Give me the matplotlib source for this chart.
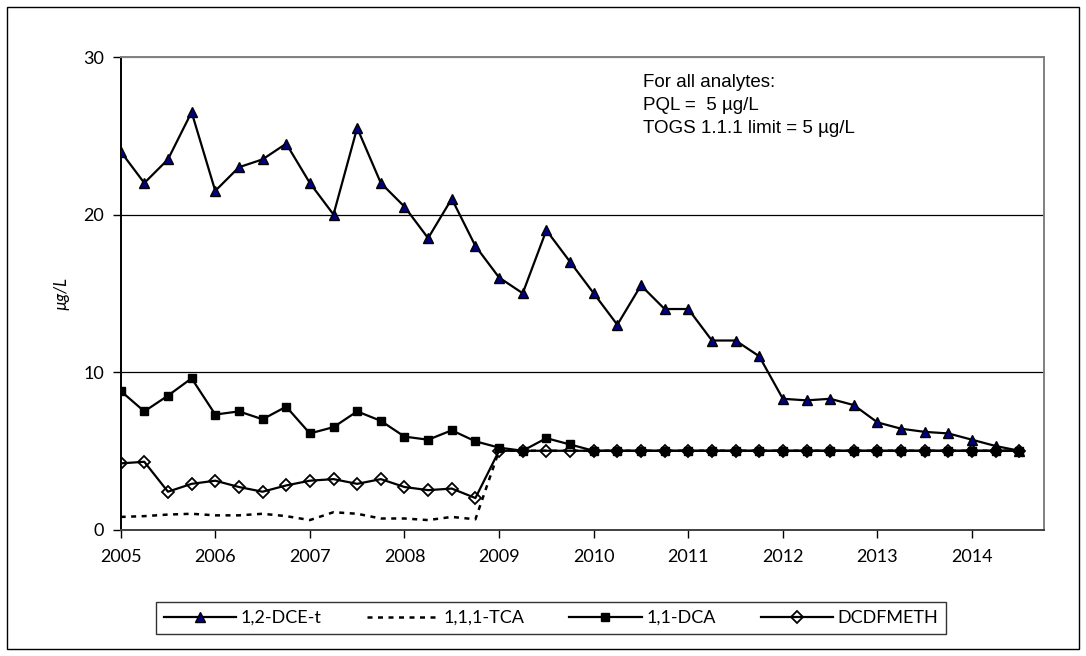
import matplotlib
matplotlib.use("Agg")
import matplotlib.pyplot as plt
from matplotlib.patches import Rectangle
import numpy as np

# Quarterly sample dates 2005.00 .. 2014.50
dates = [2005 + 0.25 * i for i in range(39)]

dce_t = [24, 22, 23.5, 26.5, 21.5, 23, 23.5, 24.5, 22, 20, 25.5, 22,
         20.5, 18.5, 21, 18, 16, 15, 19, 17, 15, 13, 15.5, 14,
         14, 12, 12, 11, 8.3, 8.2, 8.3, 7.9, 6.8, 6.4, 6.2, 6.1,
         5.7, 5.3, 5.0]
tca = [0.8, 0.85, 0.95, 1.0, 0.9, 0.9, 1.0, 0.85, 0.6, 1.1, 1.0, 0.7,
       0.7, 0.6, 0.8, 0.65, 5, 5, 5, 5, 5, 5, 5, 5,
       5, 5, 5, 5, 5, 5, 5, 5, 5, 5, 5, 5, 5, 5, 5]
dca = [8.8, 7.5, 8.5, 9.6, 7.3, 7.5, 7.0, 7.8, 6.1, 6.5, 7.5, 6.9,
       5.9, 5.7, 6.3, 5.6, 5.2, 5.0, 5.8, 5.4, 5, 5, 5, 5,
       5, 5, 5, 5, 5, 5, 5, 5, 5, 5, 5, 5, 5, 5, 5]
dcdfmeth = [4.2, 4.3, 2.4, 2.9, 3.1, 2.7, 2.4, 2.8, 3.1, 3.2, 2.9, 3.2,
            2.7, 2.5, 2.6, 2.0, 5, 5, 5, 5, 5, 5, 5, 5,
            5, 5, 5, 5, 5, 5, 5, 5, 5, 5, 5, 5, 5, 5, 5]

year_ticks = list(range(2005, 2015))
y_ticks = [0, 10, 20, 30]

fig = plt.figure(figsize=(10.86, 6.56), dpi=100)
ax = fig.add_axes([0.1111, 0.1928, 0.8502, 0.7203])

tick_font = "Lato"

ax.plot(dates, dce_t, color="black", lw=1.6, marker="^", ms=6.5,
        markerfacecolor="#000080", markeredgecolor="black", mew=1.0,
        label="1,2-DCE-t", zorder=3)
ax.plot(dates, tca, color="black", lw=1.8, linestyle=(0, (2, 2.2)),
        label="1,1,1-TCA", zorder=3)
ax.plot(dates, dca, color="black", lw=1.6, marker="s", ms=6,
        markerfacecolor="black", markeredgecolor="black",
        label="1,1-DCA", zorder=3)
ax.plot(dates, dcdfmeth, color="black", lw=1.6, marker="D", ms=6.5,
        markerfacecolor="none", markeredgecolor="black", mew=1.3,
        label="DCDFMETH", zorder=4)

ax.set_xlim(2005, 2014.76)
ax.set_ylim(0, 30)
ax.set_yticks(y_ticks)
ax.set_xticks(year_ticks)
ax.set_xticklabels([str(y) for y in year_ticks], fontfamily=tick_font, fontsize=13)
ax.set_yticklabels([str(v) for v in y_ticks], fontfamily=tick_font, fontsize=13)
ax.tick_params(axis="x", direction="out", length=6, width=1, pad=8, color="black")
ax.tick_params(axis="y", direction="out", length=6, width=1, pad=6, color="black")

for v in [10, 20]:
    ax.axhline(v, color="black", lw=0.9, zorder=1)
ax.axhline(30, color="#808080", lw=1.6, zorder=1)

for s in ["top", "right"]:
    ax.spines[s].set_color("#808080")
    ax.spines[s].set_linewidth(1.4)
ax.spines["left"].set_color("black")
ax.spines["left"].set_linewidth(1.4)
ax.spines["bottom"].set_color("#404040")
ax.spines["bottom"].set_linewidth(1.4)

ax.set_ylabel("µg/L", fontfamily=tick_font, fontstyle="italic", fontsize=12,
              labelpad=10)

ax.text(0.5652, 0.965, "For all analytes:\nPQL =  5 µg/L\nTOGS 1.1.1 limit = 5 µg/L",
        transform=ax.transAxes, ha="left", va="top",
        fontfamily="Liberation Sans", fontsize=13.5, linespacing=1.47)

leg = fig.legend(loc="center", bbox_to_anchor=(551 / 1086, 1 - 618 / 656),
                 ncol=4, frameon=True, fancybox=False, edgecolor="black",
                 prop={"family": tick_font, "size": 13},
                 handlelength=4.0, columnspacing=2.5, handletextpad=0.25,
                 borderpad=0.45, borderaxespad=0)
leg.get_frame().set_linewidth(1.0)

fig.patches.append(Rectangle((7 / 1086, 7 / 656), 1 - 14 / 1086, 1 - 14 / 656,
                             transform=fig.transFigure, fill=False,
                             edgecolor="black", lw=1.0))

fig.savefig("out.png", dpi=100)
